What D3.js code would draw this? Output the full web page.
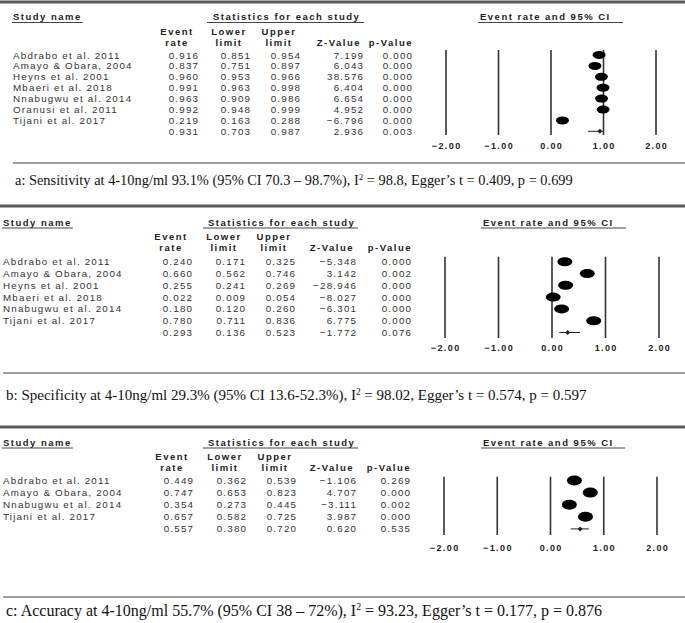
<!DOCTYPE html>
<html>
<head>
<meta charset="utf-8">
<script src="https://cdn.jsdelivr.net/npm/d3@7"></script>
<style>
  html, body { margin: 0; padding: 0; background: #fff; }
  svg { display: block; }
  .row { font-family: "Liberation Sans", Arial, sans-serif; font-size: 9.8px; fill: #333; letter-spacing: 1.2px; }
  .hdr { font-family: "Liberation Sans", Arial, sans-serif; font-size: 9.5px; font-weight: bold; fill: #222; letter-spacing: 1.5px; }
  .tick { font-family: "Liberation Sans", Arial, sans-serif; font-size: 9px; font-weight: bold; fill: #222; letter-spacing: 1.4px; }
  .cap { font-family: "Liberation Serif", "Times New Roman", serif; fill: #111; }
</style>
</head>
<body>
<svg id="chart" width="685" height="623"></svg>
<script>
// ---------- DATA ----------
const tickValues = [-2, -1, 0, 1, 2];
const columnHeaders = [["Event", "rate"], ["Lower", "limit"], ["Upper", "limit"], ["", "Z-Value"], ["", "p-Value"]];

// Panel a: Sensitivity
const studiesA = ["Abdrabo et al. 2011", "Amayo & Obara, 2004", "Heyns et al. 2001", "Mbaeri et al. 2018", "Nnabugwu et al. 2014", "Oranusi et al. 2011", "Tijani et al. 2017", ""];
const rateA  = [0.916, 0.837, 0.960, 0.991, 0.963, 0.992, 0.219, 0.931];
const lowerA = [0.851, 0.751, 0.953, 0.963, 0.909, 0.948, 0.163, 0.703];
const upperA = [0.954, 0.897, 0.966, 0.998, 0.986, 0.999, 0.288, 0.987];
const zA     = [7.199, 6.043, 38.576, 6.404, 6.654, 4.952, -6.796, 2.936];
const pA     = [0.000, 0.000, 0.000, 0.000, 0.000, 0.000, 0.000, 0.003];
const captionA = ["a: Sensitivity at 4-10ng/ml 93.1% (95% CI 70.3 – 98.7%), I", "2", " = 98.8, Egger’s t = 0.409, p = 0.699"];

// Panel b: Specificity
const studiesB = ["Abdrabo et al. 2011", "Amayo & Obara, 2004", "Heyns et al. 2001", "Mbaeri et al. 2018", "Nnabugwu et al. 2014", "Tijani et al. 2017", ""];
const rateB  = [0.240, 0.660, 0.255, 0.022, 0.180, 0.780, 0.293];
const lowerB = [0.171, 0.562, 0.241, 0.009, 0.120, 0.711, 0.136];
const upperB = [0.325, 0.746, 0.269, 0.054, 0.260, 0.836, 0.523];
const zB     = [-5.348, 3.142, -28.946, -8.027, -6.301, 6.775, -1.772];
const pB     = [0.000, 0.002, 0.000, 0.000, 0.000, 0.000, 0.076];
const captionB = ["b: Specificity at 4-10ng/ml 29.3% (95% CI 13.6-52.3%), I", "2", " = 98.02, Egger’s t = 0.574, p = 0.597"];

// Panel c: Accuracy
const studiesC = ["Abdrabo et al. 2011", "Amayo & Obara, 2004", "Nnabugwu et al. 2014", "Tijani et al. 2017", ""];
const rateC  = [0.449, 0.747, 0.354, 0.657, 0.557];
const lowerC = [0.362, 0.653, 0.273, 0.582, 0.380];
const upperC = [0.539, 0.823, 0.445, 0.725, 0.720];
const zC     = [-1.106, 4.707, -3.111, 3.987, 0.620];
const pC     = [0.269, 0.000, 0.002, 0.000, 0.535];
const captionC = ["c: Accuracy at 4-10ng/ml 55.7% (95% CI 38 – 72%), I", "2", " = 93.23, Egger’s t = 0.177, p = 0.876"];

// ---------- LAYOUT ----------
const panels = [
  { studies: studiesA, rate: rateA, lower: lowerA, upper: upperA, z: zA, p: pA, caption: captionA,
    topY: 2, topX0: 0, hdrY: 20, ev2Y: 45.5, row0: 55, rowStep: 10.9, studyX: 13,
    cols: [198, 250, 300, 363, 412], statsX: 213, statsU: [207, 364], ciX: 480, ciU: [478, 623],
    xr: [446, 656], vY: [50, 135], tickY: 148.5, sepY: 163, sepX0: 13, capX: 15, capY: 185, capSize: 14.4, rx: 6.5, ry: 4 },
  { studies: studiesB, rate: rateB, lower: lowerB, upper: upperB, z: zB, p: pB, caption: captionB,
    topY: 206, topX0: 0, hdrY: 225.5, ev2Y: 250.5, row0: 261.7, rowStep: 11.8, studyX: 3,
    cols: [192, 245, 295, 356, 411], statsX: 208, statsU: [203, 358], ciX: 483, ciU: [481, 626],
    xr: [445, 659], vY: [256.7, 338], tickY: 351, sepY: 373, sepX0: 3, capX: 6, capY: 400, capSize: 15, rx: 7.5, ry: 4.5 },
  { studies: studiesC, rate: rateC, lower: lowerC, upper: upperC, z: zC, p: pC, caption: captionC,
    topY: 427, topX0: 0, hdrY: 445.5, ev2Y: 470.5, row0: 480.5, rowStep: 12.1, studyX: 3,
    cols: [193, 246, 296, 356, 410], statsX: 208, statsU: [203, 358], ciX: 483, ciU: [481, 625],
    xr: [444, 657], vY: [476.7, 535], tickY: 550.5, sepY: 597, sepX0: 3, capX: 6, capY: 616, capSize: 16, rx: 7.5, ry: 5 }
];

const svg = d3.select("#chart");
const f3 = d3.format(".3f");

panels.forEach(P => {
  const g = svg.append("g");
  const n = P.studies.length;
  const x = d3.scaleLinear().domain([-2, 2]).range(P.xr);
  const y = d3.scaleLinear().domain([0, 1]).range([P.row0, P.row0 + P.rowStep]);

  // top thick rule
  g.append("line").attr("x1", P.topX0).attr("x2", 685).attr("y1", P.topY).attr("y2", P.topY)
    .attr("stroke", "#5a5a5a").attr("stroke-width", 3);

  // headers
  const hdrs = [
    { t: "Study name", x: P.studyX, u: null },
    { t: "Statistics for each study", x: P.statsX, u: P.statsU },
    { t: "Event rate and 95% CI", x: P.ciX, u: P.ciU }
  ];
  hdrs.forEach(h => {
    const t = g.append("text").attr("class", "hdr").attr("x", h.x).attr("y", P.hdrY).text(h.t);
    let x0, x1;
    if (h.u) { x0 = h.u[0]; x1 = h.u[1]; }
    else { const bb = t.node().getBBox(); x0 = bb.x - 1; x1 = bb.x + bb.width + 1; }
    g.append("line").attr("x1", x0).attr("x2", x1).attr("y1", P.hdrY + 2.5).attr("y2", P.hdrY + 2.5)
      .attr("stroke", "#444").attr("stroke-width", 1.2);
  });

  // column headers
  columnHeaders.forEach((ch, i) => {
    if (i < 3) {
      const cx = P.cols[i] - 21;
      g.append("text").attr("class", "hdr").attr("x", cx).attr("y", P.ev2Y - 10.5).attr("text-anchor", "middle").text(ch[0]);
      g.append("text").attr("class", "hdr").attr("x", cx).attr("y", P.ev2Y).attr("text-anchor", "middle").text(ch[1]);
    } else {
      g.append("text").attr("class", "hdr").attr("x", P.cols[i] - (i === 3 ? 2 : -1)).attr("y", P.ev2Y)
        .attr("text-anchor", "end").text(ch[1]);
    }
  });

  // rows
  const cols = [P.rate, P.lower, P.upper, P.z, P.p];
  for (let r = 0; r < n; r++) {
    const yy = y(r) + 3.5;
    if (P.studies[r]) g.append("text").attr("class", "row").attr("x", P.studyX).attr("y", yy).text(P.studies[r]);
    cols.forEach((arr, ci) => {
      g.append("text").attr("class", "row").attr("x", P.cols[ci] + 1.2).attr("y", yy)
        .attr("text-anchor", "end").text(f3(arr[r]));
    });
  }

  // forest plot verticals
  g.selectAll("line.v").data(tickValues).join("line").attr("class", "v")
    .attr("x1", d => x(d)).attr("x2", d => x(d)).attr("y1", P.vY[0]).attr("y2", P.vY[1])
    .attr("stroke", "#333").attr("stroke-width", 1.6);
  g.selectAll("text.tk").data(tickValues).join("text").attr("class", "tick")
    .attr("x", d => x(d) + 0.7).attr("y", P.tickY).attr("text-anchor", "middle").text(d => d3.format(".2f")(d));

  // studies
  for (let r = 0; r < n - 1; r++) {
    g.append("line").attr("x1", x(P.lower[r])).attr("x2", x(P.upper[r])).attr("y1", y(r)).attr("y2", y(r))
      .attr("stroke", "#000").attr("stroke-width", 1);
    g.append("ellipse").attr("cx", x(P.rate[r])).attr("cy", y(r)).attr("rx", P.rx).attr("ry", P.ry).attr("fill", "#000");
  }
  // summary
  const s = n - 1, sy = y(s);
  g.append("line").attr("x1", x(P.lower[s])).attr("x2", x(P.upper[s])).attr("y1", sy).attr("y2", sy)
    .attr("stroke", "#222").attr("stroke-width", 1);
  const sx = x(P.rate[s]);
  g.append("path").attr("d", `M${sx - 2.5},${sy} L${sx},${sy - 2.5} L${sx + 2.5},${sy} L${sx},${sy + 2.5} Z`).attr("fill", "#222");

  // separator
  g.append("line").attr("x1", P.sepX0).attr("x2", 685).attr("y1", P.sepY).attr("y2", P.sepY)
    .attr("stroke", "#a0a0a0").attr("stroke-width", 2);

  // caption
  const cap = g.append("text").attr("class", "cap").attr("x", P.capX).attr("y", P.capY).attr("font-size", P.capSize + "px");
  cap.append("tspan").text(P.caption[0]);
  cap.append("tspan").attr("dy", -0.36 * P.capSize).attr("font-size", (0.62 * P.capSize) + "px").text(P.caption[1]);
  cap.append("tspan").attr("dy", 0.36 * P.capSize).text(P.caption[2]);
});
</script>
</body>
</html>
